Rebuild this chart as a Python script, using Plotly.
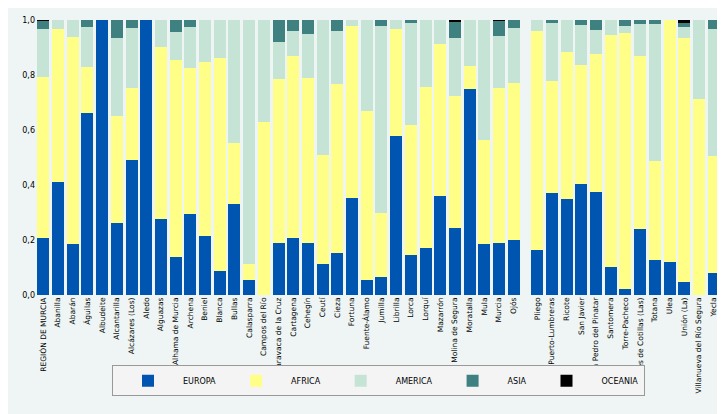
import plotly.graph_objects as go

municipios = ["REGIÓN DE MURCIA", "Abanilla", "Abarán", "Águilas", "Albudeite", "Alcantarilla",
              "Alcázares (Los)", "Aledo", "Alguazas", "Alhama de Murcia", "Archena", "Beniel",
              "Blanca", "Bullas", "Calasparra", "Campos del Río", "Caravaca de la Cruz", "Cartagena",
              "Cehegín", "Ceutí", "Cieza", "Fortuna", "Fuente-Álamo", "Jumilla", "Librilla", "Lorca",
              "Lorquí", "Mazarrón", "Molina de Segura", "Moratalla", "Mula", "Murcia", "Ojós",
              "Pliego", "Puerto-Lumbreras", "Ricote", "San Javier", "San Pedro del Pinatar",
              "Santomera", "Torre-Pacheco", "Torres de Cotillas (Las)", "Totana", "Ulea",
              "Unión (La)", "Villanueva del Río Segura", "Yecla"]

# cumulative shares
cum_europa = [0.207, 0.41, 0.187, 0.662, 1.0, 0.262, 0.492, 1.0, 0.275, 0.139, 0.295, 0.216,
              0.088, 0.332, 0.056, 0.0, 0.189, 0.207, 0.189, 0.113, 0.153, 0.353, 0.055, 0.067,
              0.578, 0.145, 0.17, 0.36, 0.244, 0.749, 0.185, 0.189, 0.2,
              0.164, 0.371, 0.349, 0.404, 0.376, 0.103, 0.022, 0.241, 0.127, 0.12, 0.047, 0.0, 0.08]
cum_africa = [0.793, 0.968, 0.937, 0.83, 1.0, 0.652, 0.753, 1.0, 0.903, 0.856, 0.825, 0.848,
              0.863, 0.554, 0.113, 0.629, 0.787, 0.87, 0.79, 0.51, 0.768, 0.978, 0.669, 0.299,
              0.967, 0.619, 0.756, 0.914, 0.725, 0.834, 0.565, 0.753, 0.77,
              0.961, 0.778, 0.885, 0.836, 0.878, 0.945, 0.953, 0.869, 0.487, 1.0, 0.935, 0.713, 0.507]
cum_america = [0.968, 1.0, 1.0, 0.973, 1.0, 0.936, 0.971, 1.0, 1.0, 0.956, 0.975, 1.0,
               1.0, 1.0, 1.0, 1.0, 0.921, 0.961, 0.95, 1.0, 0.961, 1.0, 1.0, 0.979,
               1.0, 0.989, 1.0, 1.0, 0.936, 1.0, 1.0, 0.942, 0.97,
               1.0, 0.99, 1.0, 0.983, 0.964, 1.0, 0.977, 0.985, 0.985, 1.0, 0.976, 1.0, 0.966]
cum_asia = [0.998, 1.0, 1.0, 1.0, 1.0, 1.0, 1.0, 1.0, 1.0, 1.0, 1.0, 1.0,
            1.0, 1.0, 1.0, 1.0, 1.0, 1.0, 1.0, 1.0, 1.0, 1.0, 1.0, 1.0,
            1.0, 1.0, 1.0, 1.0, 0.995, 1.0, 1.0, 0.998, 1.0,
            1.0, 1.0, 1.0, 1.0, 1.0, 1.0, 1.0, 1.0, 1.0, 1.0, 0.99, 1.0, 1.0]

europa = cum_europa
africa = [b - a for a, b in zip(cum_europa, cum_africa)]
america = [b - a for a, b in zip(cum_africa, cum_america)]
asia = [b - a for a, b in zip(cum_america, cum_asia)]
oceania = [1 - a for a in cum_asia]

# gap after Ojós
xpos = [i if i < 33 else i + 0.6 for i in range(len(municipios))]

series = [("EUROPA", europa, "#0055b0"), ("AFRICA", africa, "#ffff88"),
          ("AMERICA", america, "#c5e4d6"), ("ASIA", asia, "#3f8080"),
          ("OCEANIA", oceania, "#000000")]

fig = go.Figure()
for name, vals, col in series:
    fig.add_trace(go.Bar(x=xpos, y=vals, name=name, marker_color=col,
                         marker_line_width=0, width=0.82))

fig.update_layout(
    barmode="stack", width=725, height=414,
    margin=dict(l=28, r=12, t=12, b=127),
    paper_bgcolor="#eef5f4", plot_bgcolor="#eef5f4",
    font=dict(family="DejaVu Sans", size=8, color="black"),
    showlegend=True,
    legend=dict(orientation="h", x=0.5, xanchor="center", y=-0.255, yanchor="top",
                bgcolor="#f4f4f4", bordercolor="#999999", borderwidth=1,
                font=dict(size=8), itemwidth=60, traceorder="normal"),
    xaxis=dict(tickmode="array", tickvals=xpos, ticktext=municipios, tickangle=-90,
               range=[-0.5, xpos[-1] + 0.5], showgrid=False, ticks="", automargin=False,
               tickfont=dict(size=7.5)),
    yaxis=dict(range=[0, 1], tickvals=[0, 0.2, 0.4, 0.6, 0.8, 1.0],
               ticktext=["0,0", "0,2", "0,4", "0,6", "0,8", "1,0"], showgrid=False,
               ticks="", zeroline=False, automargin=False),
)
fig.write_html("out.html")
